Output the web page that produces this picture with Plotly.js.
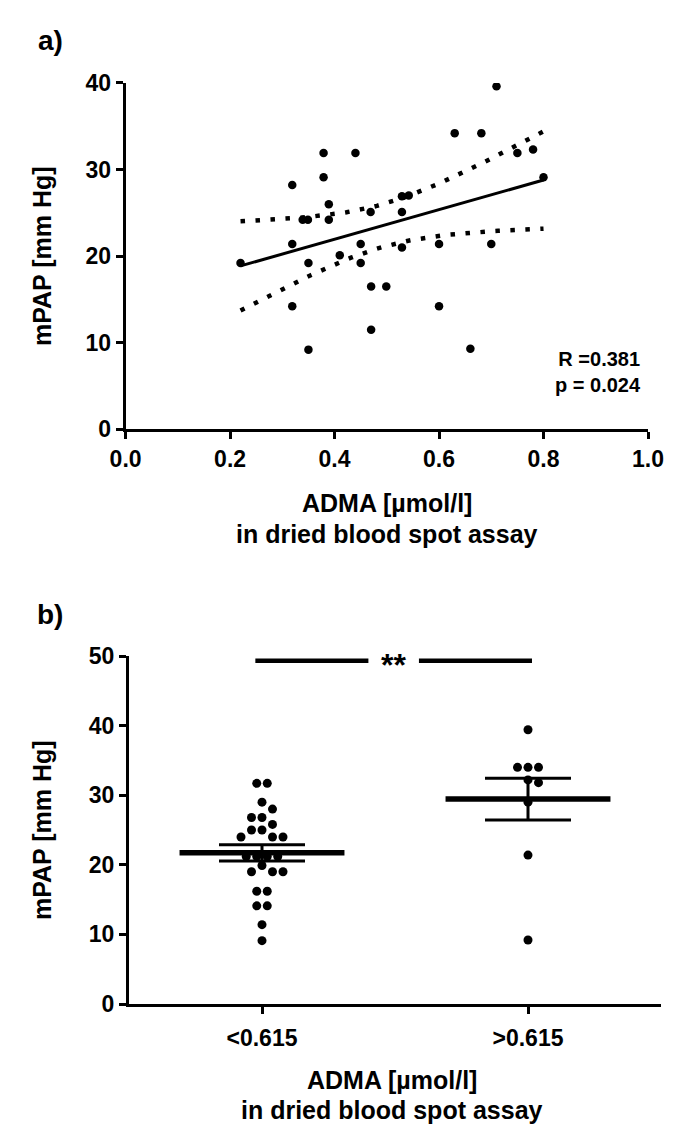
<!DOCTYPE html>
<html>
<head>
<meta charset="utf-8">
<script src="https://cdn.plot.ly/plotly-3.0.1.min.js"></script>
<style>html,body{margin:0;padding:0;background:#fff;}#chart{width:679px;height:1140px;}</style>
</head>
<body>
<div id="chart"></div>
<script>
// ---------- DATA ----------
// Panel a: ADMA (µmol/l) vs mPAP (mm Hg)
const admaValues = [0.379,0.440,0.379,0.319,0.389,0.339,0.349,0.389,0.469,0.319,0.220,0.350,0.410,0.450,0.450,0.470,0.499,0.319,0.470,0.350,
                    0.710,0.630,0.681,0.750,0.780,0.800,0.529,0.542,0.529,0.529,0.600,0.700,0.600,0.660];
const mpapValues = [31.9,31.9,29.1,28.2,26.0,24.2,24.2,24.2,25.1,21.4,19.2,19.2,20.1,21.4,19.2,16.5,16.5,14.2,11.5,9.2,
                    39.6,34.2,34.2,31.9,32.3,29.1,26.9,27.0,25.1,21.0,21.4,21.4,14.2,9.3];
const statsLabels = ['R =0.381', 'p = 0.024'];
const xTickValsA = [0, 0.2, 0.4, 0.6, 0.8, 1.0];
const yTickValsA = [0, 10, 20, 30, 40];

// Panel b: mPAP by ADMA group
const groupLabels = ['<0.615', '>0.615'];
const mpapLow  = [31.7,31.7,29.0,28.0,26.8,26.8,25.8,25.0,25.0,24.0,24.0,24.0,21.2,21.2,21.2,21.2,19.9,19.0,19.0,19.0,16.2,16.2,14.1,14.1,11.4,9.1];
const mpapHigh = [39.4,34.0,34.0,34.0,32.2,31.8,29.0,21.4,9.2];
const yTickValsB = [0, 10, 20, 30, 40, 50];
const significance = {from: 0, to: 1, level: 49.3, label: '**'};

// ---------- HELPERS ----------
const W = 679, H = 1140;
const px = x => x / W;
const py = y => 1 - y / H;
const mean = a => a.reduce((s, v) => s + v, 0) / a.length;
const sem = a => { const m = mean(a); const v = a.reduce((s, x) => s + (x - m) * (x - m), 0) / (a.length - 1); return Math.sqrt(v) / Math.sqrt(a.length); };

// linear regression with 95% CI of the fit
const n = admaValues.length;
const mx = mean(admaValues), my = mean(mpapValues);
let sxx = 0, sxy = 0;
for (let i = 0; i < n; i++) { sxx += (admaValues[i] - mx) ** 2; sxy += (admaValues[i] - mx) * (mpapValues[i] - my); }
const slope = sxy / sxx, icpt = my - slope * mx;
let sse = 0;
for (let i = 0; i < n; i++) sse += (mpapValues[i] - (icpt + slope * admaValues[i])) ** 2;
const sres = Math.sqrt(sse / (n - 2));
const tcrit = 2.037;
const xmin = Math.min(...admaValues), xmax = Math.max(...admaValues);
const fitX = [], fitY = [], upY = [], loY = [];
for (let k = 0; k <= 60; k++) {
  const x = xmin + (xmax - xmin) * k / 60;
  const yh = icpt + slope * x;
  const se = sres * Math.sqrt(1 / n + (x - mx) ** 2 / sxx);
  fitX.push(x); fitY.push(yh); upY.push(yh + tcrit * se); loY.push(yh - tcrit * se);
}

// simple beeswarm (pixel space) for panel b
const pxPerCat = (661 - 129) / 2.0;   // px per category unit
const pxPerUnitB = (1004 - 656) / 50; // px per mm Hg
function swarm(vals, center, d) {
  const idx = vals.map((v, i) => i).sort((a, b) => vals[b] - vals[a]);
  const placed = []; const out = new Array(vals.length);
  let i = 0;
  while (i < idx.length) {
    let j = i;
    while (j < idx.length && Math.abs(vals[idx[j]] - vals[idx[i]]) < 1e-9) j++;
    const grp = [];
    for (let k = i; k < j; k++) {
      const y = vals[idx[k]] * pxPerUnitB;
      const cands = [0];
      for (let s = 1; s < 40; s++) { cands.push(s * d / 2); cands.push(-s * d / 2); }
      for (const c of cands) {
        if ([...placed, ...grp].every(p => Math.hypot(p.x - c, p.y - y) >= d * 0.95)) { grp.push({x: c, y: y, id: idx[k]}); break; }
      }
    }
    const shift = -mean(grp.map(g => g.x));
    const ok = grp.every(g => placed.every(p => Math.hypot(p.x - (g.x + shift), p.y - g.y) >= d * 0.95));
    grp.forEach(g => { if (ok) g.x += shift; placed.push(g); out[g.id] = center + g.x / pxPerCat; });
    i = j;
  }
  return out;
}
const xLow = swarm(mpapLow, 0, 10.5);
const xHigh = swarm(mpapHigh, 1, 10.5);
const groups = [mpapLow, mpapHigh];
const gMeans = groups.map(mean), gSems = groups.map(sem);

// ---------- TRACES ----------
const black = '#000';
const traces = [
  {x: admaValues, y: mpapValues, type: 'scatter', mode: 'markers', marker: {color: black, size: 8.5}, xaxis: 'x', yaxis: 'y'},
  {x: fitX, y: fitY, type: 'scatter', mode: 'lines', line: {color: black, width: 3}, xaxis: 'x', yaxis: 'y'},
  {x: fitX, y: upY, type: 'scatter', mode: 'lines', line: {color: black, width: 4.5, dash: '4.5px,10.5px'}, xaxis: 'x', yaxis: 'y'},
  {x: fitX, y: loY, type: 'scatter', mode: 'lines', line: {color: black, width: 4.5, dash: '4.5px,10.5px'}, xaxis: 'x', yaxis: 'y'},
  {x: xLow, y: mpapLow, type: 'scatter', mode: 'markers', marker: {color: black, size: 9}, xaxis: 'x2', yaxis: 'y2'},
  {x: xHigh, y: mpapHigh, type: 'scatter', mode: 'markers', marker: {color: black, size: 9}, xaxis: 'x2', yaxis: 'y2'},
];
[0, 1].forEach(g => {
  traces.push({x: [g - 0.31, g + 0.31], y: [gMeans[g], gMeans[g]], type: 'scatter', mode: 'lines', line: {color: black, width: 5.5}, xaxis: 'x2', yaxis: 'y2'});
});
traces.push({x: [0, 1], y: gMeans, type: 'scatter', mode: 'markers', marker: {size: 1, color: 'rgba(0,0,0,0)'},
  error_y: {type: 'data', array: gSems, visible: true, color: black, thickness: 3, width: 43}, xaxis: 'x2', yaxis: 'y2'});
const sigMid = (significance.from + significance.to) / 2;
traces.push({x: [significance.from - 0.025, sigMid - 0.1], y: [significance.level, significance.level], type: 'scatter', mode: 'lines', line: {color: black, width: 4.5}, xaxis: 'x2', yaxis: 'y2'});
traces.push({x: [sigMid + 0.09, significance.to + 0.015], y: [significance.level, significance.level], type: 'scatter', mode: 'lines', line: {color: black, width: 4.5}, xaxis: 'x2', yaxis: 'y2'});

// ---------- LAYOUT ----------
const fam = '"Liberation Sans", Arial, sans-serif';
const tickFontNum = {family: fam, size: 23, color: black, weight: 'bold'};
const titleFont = {family: fam, size: 25, color: black, weight: 'bold'};
const axisBase = {showline: true, linewidth: 3, linecolor: black, ticks: 'outside', ticklen: 7, tickwidth: 3, tickcolor: black,
  showgrid: false, zeroline: false, fixedrange: true};
const ann = (text, x, y, font, extra) => Object.assign({text: text, x: px(x), y: py(y), xref: 'paper', yref: 'paper',
  xanchor: 'center', yanchor: 'middle', showarrow: false, font: font}, extra || {});

const layout = {
  width: W, height: H, margin: {l: 0, r: 0, t: 0, b: 0}, paper_bgcolor: '#fff', plot_bgcolor: '#fff', showlegend: false,
  xaxis: Object.assign({}, axisBase, {domain: [px(125.6), px(648)], range: [0, 1], anchor: 'y', tickvals: xTickValsA,
    ticktext: xTickValsA.map(v => v.toFixed(1)), tickfont: tickFontNum}),
  yaxis: Object.assign({}, axisBase, {domain: [py(429.3), py(82.9)], range: [0, 40], anchor: 'x', tickvals: yTickValsA, tickfont: tickFontNum}),
  xaxis2: Object.assign({}, axisBase, {domain: [px(129), px(661)], range: [-0.5, 1.5], anchor: 'y2', tickvals: [0, 1],
    ticktext: groupLabels, ticklabelstandoff: 4, tickfont: {family: fam, size: 23, color: black, weight: 'bold'}}),
  yaxis2: Object.assign({}, axisBase, {domain: [py(1004), py(656)], range: [0, 50], anchor: 'x2', tickvals: yTickValsB, tickfont: tickFontNum}),
  annotations: [
    ann('a)', 50, 40, {family: fam, size: 28, color: black, weight: 'bold'}),
    ann('b)', 50, 614, {family: fam, size: 28, color: black, weight: 'bold'}),
    ann('mPAP [mm Hg]', 42, 256, titleFont, {textangle: -90}),
    ann('mPAP [mm Hg]', 42, 830, titleFont, {textangle: -90}),
    ann('ADMA [µmol/l]', 387, 503, titleFont),
    ann('in dried blood spot assay', 387, 534, titleFont),
    ann('ADMA [µmol/l]', 392, 1080, titleFont),
    ann('in dried blood spot assay', 392, 1110, titleFont),
    ann(statsLabels.join('<br>'), 643, 372.5, {family: fam, size: 20, color: black, weight: 'bold'}, {xanchor: 'right', align: 'right'}),
    {text: significance.label, x: sigMid - 0.005, y: significance.level - 0.6, xref: 'x2', yref: 'y2', xanchor: 'center', yanchor: 'middle', showarrow: false,
     font: {family: fam, size: 32, color: black, weight: 'bold'}}
  ]
};

Plotly.newPlot('chart', traces, layout, {staticPlot: true, displayModeBar: false});
</script>
</body>
</html>
